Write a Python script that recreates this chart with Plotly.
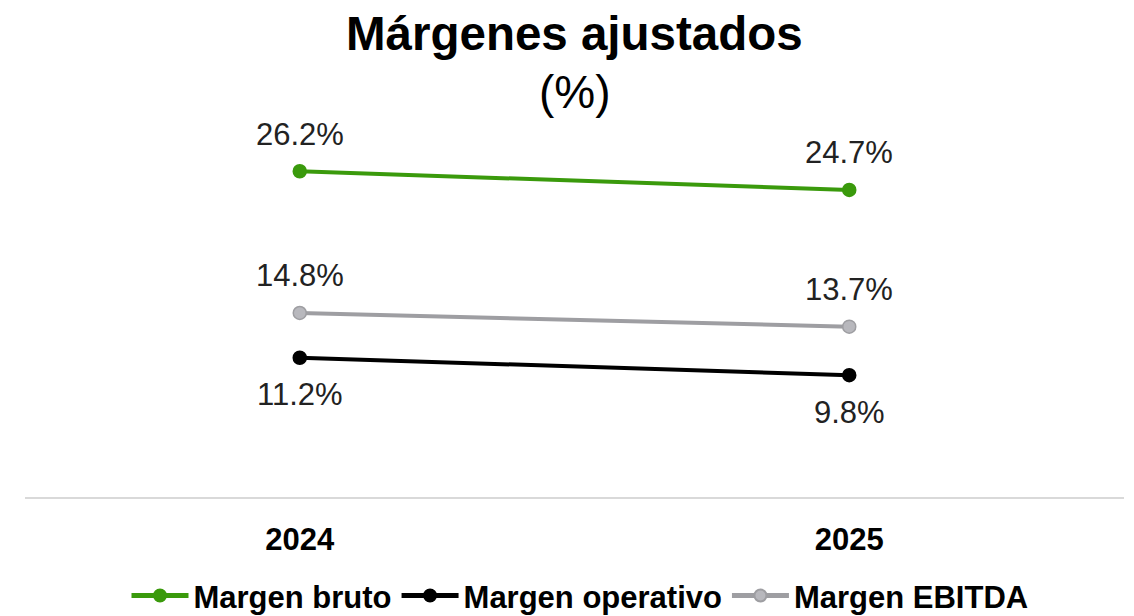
import plotly.graph_objects as go

years = ["2024", "2025"]
margen_bruto = [26.2, 24.7]
margen_operativo = [11.2, 9.8]
margen_ebitda = [14.8, 13.7]

font_family = "Liberation Sans, Arial, sans-serif"

# the page body adds an 8px margin, so the figure is shifted by 8px
W, H = 1134 - 8, 616 - 8

series = [
    ("Margen bruto", margen_bruto, "#3a9a0c", "#3a9a0c", "#3a9a0c", 1),
    ("Margen operativo", margen_operativo, "#000000", "#000000", "#000000", -1),
    ("Margen EBITDA", margen_ebitda, "#9e9ea2", "#b8b8bd", "#9e9ea2", 1),
]

fig = go.Figure()

for name, vals, lc, mc, mlc, side in series:
    fig.add_trace(go.Scatter(
        x=years, y=vals, name=name, mode="lines+markers",
        line=dict(color=lc, width=4),
        marker=dict(size=13, color=mc, line=dict(color=mlc, width=1.5))))
    for i, v in enumerate(vals):
        fig.add_annotation(x=i, y=v, text=f"{v:.1f}%", showarrow=False,
                           yshift=37 * side, xanchor="center", yanchor="middle",
                           font=dict(size=31, color="#222222"))

# title in two lines (plot area height is 373px, top at 116px of the figure)
fig.add_annotation(text="<b>Márgenes ajustados</b>", xref="paper", yref="paper",
                   x=0.5, y=(489 - 25) / 373, xanchor="center", yanchor="middle",
                   showarrow=False, font=dict(size=47.5, color="#000000"))
fig.add_annotation(text="(%)", xref="paper", yref="paper",
                   x=0.5, y=(489 - 84) / 373, xanchor="center", yanchor="middle",
                   showarrow=False, font=dict(size=46, color="#000000"))

fig.update_layout(
    width=W, height=H,
    paper_bgcolor="white", plot_bgcolor="white",
    font=dict(family=font_family, color="#000000"),
    margin=dict(l=17, r=W - 1116, t=116, b=H - 489, autoexpand=False),
    xaxis=dict(
        type="category", range=[-0.5, 1.5], showgrid=False, zeroline=False,
        showline=True, linecolor="#d9d9d9", linewidth=2,
        ticks="", ticklabelstandoff=14, automargin=False,
        tickfont=dict(size=31, color="#000000", weight="bold")),
    yaxis=dict(range=[0, 30], visible=False),
    showlegend=True,
    legend=dict(
        orientation="h", x=0.505, xanchor="center", y=-0.265, yanchor="middle",
        font=dict(size=31, color="#000000", weight="bold"),
        itemsizing="constant", itemwidth=57, tracegroupgap=0),
)

fig.write_html("out.html")
